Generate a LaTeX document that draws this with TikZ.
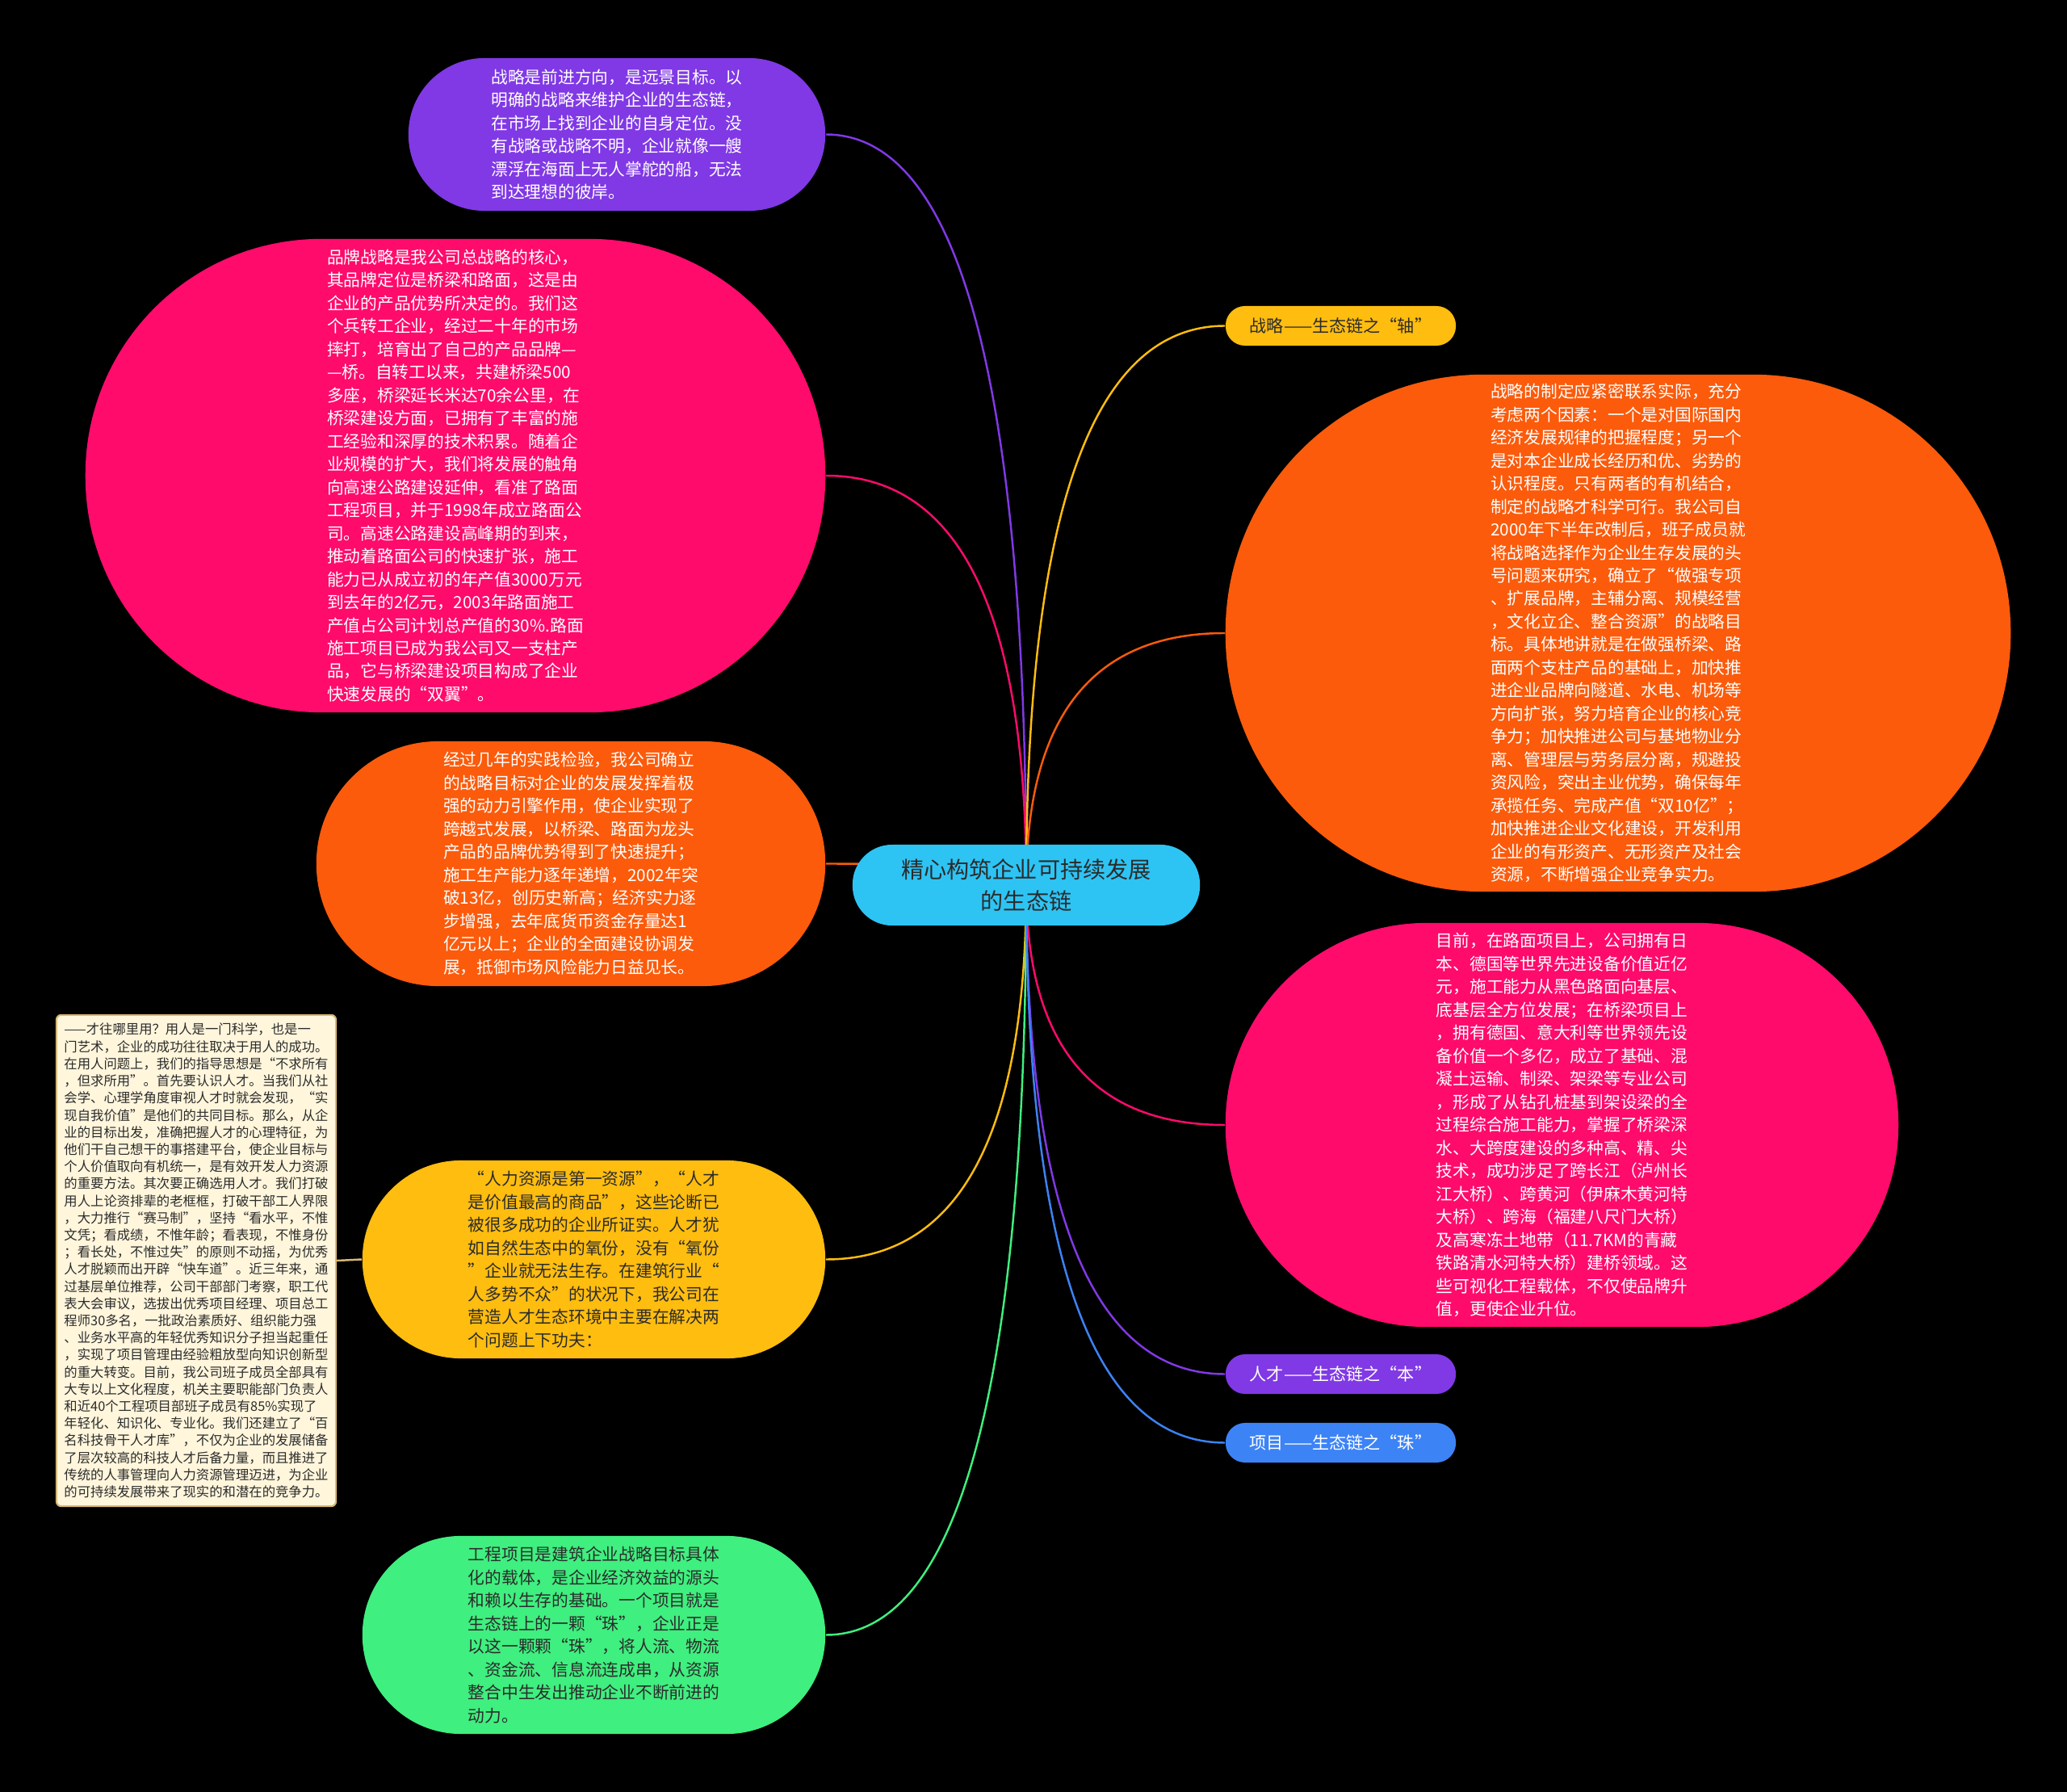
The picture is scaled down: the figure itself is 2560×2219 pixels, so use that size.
\documentclass[tikz,border=0pt]{standalone}
\usepackage{fontspec}
\newfontfamily\cjk{Noto Sans CJK SC}
\usetikzlibrary{calc}
\pgfdeclarelayer{bgzero}
\pgfdeclarelayer{bgone}
\pgfsetlayers{bgzero,bgone,main}
\definecolor{cpurple}{HTML}{8039E5}
\definecolor{cpink}{HTML}{FE0B6C}
\definecolor{corange}{HTML}{FB5B0B}
\definecolor{cyellow}{HTML}{FFBD0F}
\definecolor{cgreen}{HTML}{3FEF7F}
\definecolor{cblue}{HTML}{3C83F6}
\definecolor{ccyan}{HTML}{2DC4F4}
\definecolor{cnote}{HTML}{FFF6DC}
\definecolor{cnoteb}{HTML}{D8B774}
\definecolor{cdark}{HTML}{2B2B2B}
\tikzset{
  pill/.style={rectangle, inner sep=0pt, align=left, text=white,
    font=\cjk\fontsize{5.9pt}{8.1pt}\selectfont},
  darktext/.style={text=cdark},
  tag/.style={rectangle, inner sep=0pt, align=center, text=white,
    minimum width=2.85cm, minimum height=0.49cm, rounded corners=0.24cm,
    font=\cjk\fontsize{6pt}{7.5pt}\selectfont},
  conn/.style={line width=0.7pt},
}
\newcommand\myconn[2]{\draw[conn,#1] (root.center) .. controls ($(root.center)!0.667!(root.center|-#2)$) and ($(#2)!0.667!(root.center|-#2)$) .. (#2);}
\begin{document}
\begin{tikzpicture}[x=0.01cm,y=-0.01cm]
\begin{pgfonlayer}{bgzero}
\fill[black] (0,0) rectangle (2560,2219);
\end{pgfonlayer}
\useasboundingbox (0,0) rectangle (2560,2219);

% root
\node[pill, darktext, fill=ccyan, align=center, minimum width=4.3cm, minimum height=1cm,
  rounded corners=0.49cm, font=\cjk\fontsize{8pt}{11.1pt}\selectfont] (root) at (1271,1096)
  {精心构筑企业可持续发展\\的生态链};

% left side
\node[pill, fill=cpurple, minimum width=5.16cm, minimum height=1.89cm, rounded corners=0.94cm] (n1) at (764,166.5)
{战略是前进方向，是远景目标。以\\
明确的战略来维护企业的生态链，\\
在市场上找到企业的自身定位。没\\
有战略或战略不明，企业就像一艘\\
漂浮在海面上无人掌舵的船，无法\\
到达理想的彼岸。};

\node[pill, fill=cpink, minimum width=9.16cm, minimum height=5.86cm, rounded corners=2.92cm] (n2) at (564,589)
{品牌战略是我公司总战略的核心，\\
其品牌定位是桥梁和路面，这是由\\
企业的产品优势所决定的。我们这\\
个兵转工企业，经过二十年的市场\\
摔打，培育出了自己的产品品牌—\\
—桥。自转工以来，共建桥梁500\\
多座，桥梁延长米达70余公里，在\\
桥梁建设方面，已拥有了丰富的施\\
工经验和深厚的技术积累。随着企\\
业规模的扩大，我们将发展的触角\\
向高速公路建设延伸，看准了路面\\
工程项目，并于1998年成立路面公\\
司。高速公路建设高峰期的到来，\\
推动着路面公司的快速扩张，施工\\
能力已从成立初的年产值3000万元\\
到去年的2亿元，2003年路面施工\\
产值占公司计划总产值的30\%.路面\\
施工项目已成为我公司又一支柱产\\
品，它与桥梁建设项目构成了企业\\
快速发展的“双翼”。};

\node[pill, fill=corange, minimum width=6.3cm, minimum height=3.03cm, rounded corners=1.51cm] (n3) at (707,1069.5)
{经过几年的实践检验，我公司确立\\
的战略目标对企业的发展发挥着极\\
强的动力引擎作用，使企业实现了\\
跨越式发展，以桥梁、路面为龙头\\
产品的品牌优势得到了快速提升；\\
施工生产能力逐年递增，2002年突\\
破13亿，创历史新高；经济实力逐\\
步增强，去年底货币资金存量达1\\
亿元以上；企业的全面建设协调发\\
展，抵御市场风险能力日益见长。};

\node[pill, darktext, fill=cyellow, minimum width=5.73cm, minimum height=2.45cm, rounded corners=1.22cm] (n4) at (735.5,1559.5)
{“人力资源是第一资源”，“人才\\
是价值最高的商品”，这些论断已\\
被很多成功的企业所证实。人才犹\\
如自然生态中的氧份，没有“氧份\\
”企业就无法生存。在建筑行业“\\
人多势不众”的状况下，我公司在\\
营造人才生态环境中主要在解决两\\
个问题上下功夫：};

\node[pill, darktext, fill=cgreen, minimum width=5.73cm, minimum height=2.45cm, rounded corners=1.22cm] (n5) at (735.5,2024.5)
{工程项目是建筑企业战略目标具体\\
化的载体，是企业经济效益的源头\\
和赖以生存的基础。一个项目就是\\
生态链上的一颗“珠”，企业正是\\
以这一颗颗“珠”，将人流、物流\\
、资金流、信息流连成串，从资源\\
整合中生发出推动企业不断前进的\\
动力。};

\node[rectangle, inner sep=0pt, align=left, darktext, fill=cnote, draw=cnoteb, line width=0.6pt,
  rounded corners=0.06cm, minimum width=3.46cm, minimum height=6.08cm,
  font=\cjk\fontsize{4.65pt}{6.03pt}\selectfont] (n6) at (243,1561)
{——才往哪里用？用人是一门科学，也是一\\
门艺术，企业的成功往往取决于用人的成功。\\
在用人问题上，我们的指导思想是“不求所有\\
，但求所用”。首先要认识人才。当我们从社\\
会学、心理学角度审视人才时就会发现，“实\\
现自我价值”是他们的共同目标。那么，从企\\
业的目标出发，准确把握人才的心理特征，为\\
他们干自己想干的事搭建平台，使企业目标与\\
个人价值取向有机统一，是有效开发人力资源\\
的重要方法。其次要正确选用人才。我们打破\\
用人上论资排辈的老框框，打破干部工人界限\\
，大力推行“赛马制”，坚持“看水平，不惟\\
文凭；看成绩，不惟年龄；看表现，不惟身份\\
；看长处，不惟过失”的原则不动摇，为优秀\\
人才脱颖而出开辟“快车道”。近三年来，通\\
过基层单位推荐，公司干部部门考察，职工代\\
表大会审议，选拔出优秀项目经理、项目总工\\
程师30多名，一批政治素质好、组织能力强\\
、业务水平高的年轻优秀知识分子担当起重任\\
，实现了项目管理由经验粗放型向知识创新型\\
的重大转变。目前，我公司班子成员全部具有\\
大专以上文化程度，机关主要职能部门负责人\\
和近40个工程项目部班子成员有85\%实现了\\
年轻化、知识化、专业化。我们还建立了“百\\
名科技骨干人才库”，不仅为企业的发展储备\\
了层次较高的科技人才后备力量，而且推进了\\
传统的人事管理向人力资源管理迈进，为企业\\
的可持续发展带来了现实的和潜在的竞争力。};

% right side
\node[tag, darktext, fill=cyellow] (l1) at (1660.5,403.5) {战略——生态链之“轴”};

\node[pill, fill=corange, minimum width=9.72cm, minimum height=6.4cm, rounded corners=3.19cm] (n7) at (2004,784)
{战略的制定应紧密联系实际，充分\\
考虑两个因素：一个是对国际国内\\
经济发展规律的把握程度；另一个\\
是对本企业成长经历和优、劣势的\\
认识程度。只有两者的有机结合，\\
制定的战略才科学可行。我公司自\\
2000年下半年改制后，班子成员就\\
将战略选择作为企业生存发展的头\\
号问题来研究，确立了“做强专项\\
、扩展品牌，主辅分离、规模经营\\
，文化立企、整合资源”的战略目\\
标。具体地讲就是在做强桥梁、路\\
面两个支柱产品的基础上，加快推\\
进企业品牌向隧道、水电、机场等\\
方向扩张，努力培育企业的核心竞\\
争力；加快推进公司与基地物业分\\
离、管理层与劳务层分离，规避投\\
资风险，突出主业优势，确保每年\\
承揽任务、完成产值“双10亿”；\\
加快推进企业文化建设，开发利用\\
企业的有形资产、无形资产及社会\\
资源，不断增强企业竞争实力。};

\node[pill, fill=cpink, minimum width=8.33cm, minimum height=5cm, rounded corners=2.49cm] (n8) at (1934.5,1393)
{目前，在路面项目上，公司拥有日\\
本、德国等世界先进设备价值近亿\\
元，施工能力从黑色路面向基层、\\
底基层全方位发展；在桥梁项目上\\
，拥有德国、意大利等世界领先设\\
备价值一个多亿，成立了基础、混\\
凝土运输、制梁、架梁等专业公司\\
，形成了从钻孔桩基到架设梁的全\\
过程综合施工能力，掌握了桥梁深\\
水、大跨度建设的多种高、精、尖\\
技术，成功涉足了跨长江（泸州长\\
江大桥）、跨黄河（伊麻木黄河特\\
大桥）、跨海（福建八尺门大桥）\\
及高寒冻土地带（11.7KM的青藏\\
铁路清水河特大桥）建桥领域。这\\
些可视化工程载体，不仅使品牌升\\
值，更使企业升位。};

\node[tag, fill=cpurple] (l2) at (1660.5,1701.5) {人才——生态链之“本”};
\node[tag, fill=cblue] (l3) at (1660.5,1786.5) {项目——生态链之“珠”};

\begin{pgfonlayer}{bgone}
\myconn{cpurple}{n1.east}
\myconn{cpink}{n2.east}
\myconn{corange}{n3.east}
\myconn{cyellow}{n4.east}
\myconn{cgreen}{n5.east}
\myconn{cyellow}{l1.west}
\myconn{corange}{n7.west}
\myconn{cpink}{n8.west}
\myconn{cpurple}{l2.west}
\myconn{cblue}{l3.west}
\draw[conn, cnoteb] (n4.west) -- (n6.east);
\end{pgfonlayer}
\end{tikzpicture}
\end{document}
